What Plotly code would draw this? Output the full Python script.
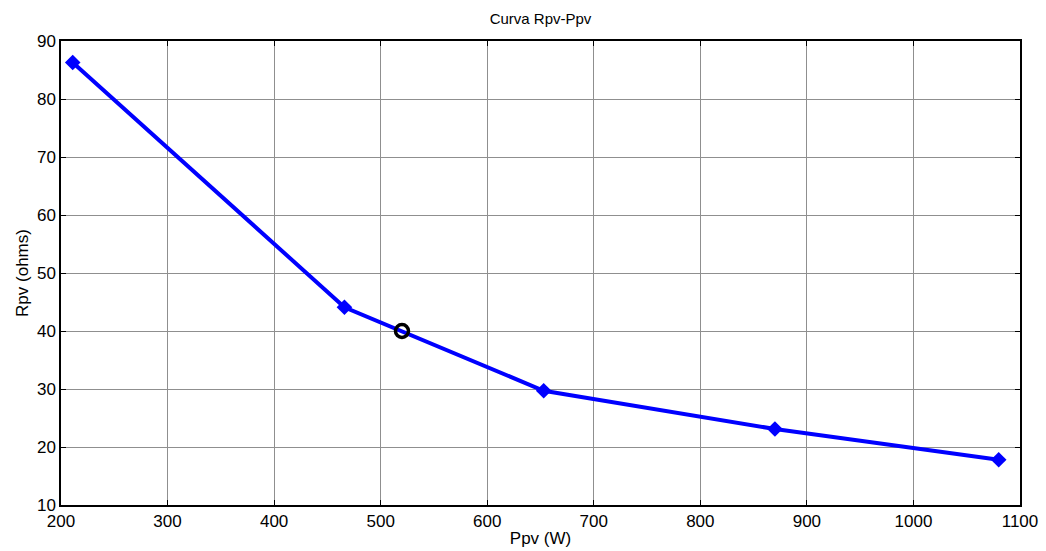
import plotly.graph_objects as go

# Curva Rpv-Ppv data
ppv = [211, 466, 653, 870, 1080]
rpv = [86.3, 44.1, 29.7, 23.1, 17.8]

# operating point
op_ppv = [520]
op_rpv = [40]

x_ticks = [200, 300, 400, 500, 600, 700, 800, 900, 1000, 1100]
y_ticks = [10, 20, 30, 40, 50, 60, 70, 80, 90]

fig = go.Figure()
fig.add_trace(go.Scatter(
    x=ppv, y=rpv, mode="lines+markers",
    line=dict(color="#0000ff", width=4),
    marker=dict(symbol="diamond", size=12, color="#0000ff"),
    showlegend=False,
))
fig.add_trace(go.Scatter(
    x=op_ppv, y=op_rpv, mode="markers",
    marker=dict(symbol="circle-open", size=13, color="black",
                line=dict(width=3.5, color="black")),
    showlegend=False,
))

font = "Liberation Sans, Arial, Helvetica, sans-serif"
axis_common = dict(
    showline=True, linecolor="black", linewidth=1.5, mirror="ticks",
    ticks="inside", ticklen=5, tickcolor="black",
    showgrid=True, gridcolor="#8f8f8f", gridwidth=1,
    zeroline=False, automargin=False,
    tickfont=dict(family=font, size=17, color="black"),
)

fig.update_layout(
    width=1046, height=551,
    margin=dict(l=61, r=26, t=41, b=46),
    paper_bgcolor="white", plot_bgcolor="white",
    title=dict(text="Curva Rpv-Ppv", x=0.5, xanchor="center", y=0.966, yanchor="middle",
               xref="paper",
               font=dict(family=font, size=15, color="black")),
    xaxis=dict(range=[200, 1100], tickvals=x_ticks,
               title=dict(text="Ppv (W)", standoff=2,
                          font=dict(family=font, size=17, color="black")),
               **axis_common),
    yaxis=dict(range=[10, 90], tickvals=y_ticks,
               title=dict(text="Rpv (ohms)", standoff=4,
                          font=dict(family=font, size=17, color="black")),
               **axis_common),
)

fig.write_html("out.html")
